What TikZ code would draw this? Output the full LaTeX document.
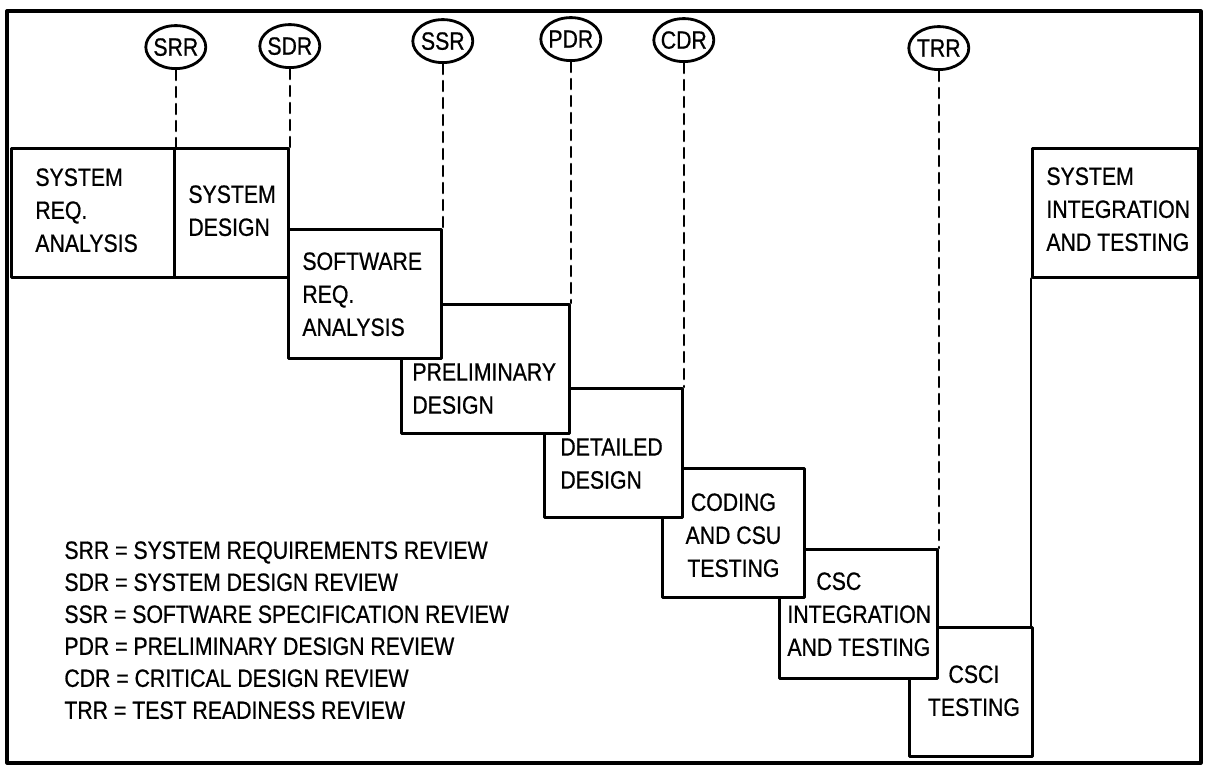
\documentclass[tikz,border=0pt]{standalone}
\usepackage{fontspec}
\setmainfont{Liberation Sans}[FakeStretch=0.85,UprightFeatures={FakeBold=0.7}]
\usepackage{tikz}
\usetikzlibrary{positioning,shapes.geometric}
\tikzset{
    every picture/.style={line cap=round,line join=round},
    phasebox/.style={draw,fill=white,line width=1.4pt,anchor=north west,
      minimum height=64.5pt,inner sep=0pt},
    phasetext/.style={anchor=north west,inner sep=0pt,align=left,
      font=\fontsize{12.5}{16.5}\selectfont},
    review/.style={draw,ellipse,line width=1.4pt,minimum width=30pt,
      minimum height=21.5pt,inner xsep=-1.5pt,inner ysep=0pt,
      font=\fontsize{12.5}{14}\selectfont},
    milestone/.style={line width=1.3pt,dash pattern=on 5pt off 3.5pt},
    keytext/.style={anchor=north west,inner sep=0pt,align=left,
      font=\fontsize{12.5}{16}\selectfont},
    outerframe/.style={line width=1.6pt}
}

\begin{document}
\begin{tikzpicture}[x=0.5pt,y=-0.5pt]
    \useasboundingbox (0,0) rectangle (1208,770);
    \draw[outerframe] (7,11) rectangle (1201,763);
    % phases, the last one first so that each earlier one lies on top
    \node[phasebox,minimum width=61.5pt] (csci) at (908,626) {};
    \node[phasebox,minimum width=79pt] (csc) at (778,548) {};
    \node[phasebox,minimum width=71pt] (cod) at (661,467) {};
    \node[phasebox,minimum width=69pt] (dd) at (543,387) {};
    \node[phasebox,minimum width=84pt] (pd) at (400,303) {};
    \node[phasebox,minimum width=76.5pt] (swra) at (287,228) {};
    \node[phasebox,minimum width=57pt] (sd) at (173,147) {};
    \node[phasebox,minimum width=81.5pt] (sra) at (10,147) {};
    \node[phasebox,minimum width=83pt] (sit) at (1031,147) {};
    \draw[line width=1.4pt] (sit.south west) -- (sit.south west |- csci.north);
    % phase names
    \node[phasetext] at ([shift={(25,21)}]sra.north west) {SYSTEM\\REQ.\\ANALYSIS};
    \node[phasetext] at ([shift={(15,38)}]sd.north west) {SYSTEM\\DESIGN};
    \node[phasetext] at ([shift={(15,24)}]swra.north west) {SOFTWARE\\REQ.\\ANALYSIS};
    \node[phasetext] at ([shift={(12,60)}]pd.north west) {PRELIMINARY\\DESIGN};
    \node[phasetext] at ([shift={(17,51)}]dd.north west) {DETAILED\\DESIGN};
    \node[phasetext,anchor=north,align=center] at ([shift={(0,26)}]cod.north) {CODING\\AND CSU\\TESTING};
    \node[phasetext] at ([shift={(9,24)}]csc.north west) {\hspace*{14.5pt}CSC\\INTEGRATION\\AND TESTING};
    \node[phasetext,anchor=north,align=center] at ([shift={(3,39)}]csci.north) {CSCI\\TESTING};
    \node[phasetext] at ([shift={(15,20)}]sit.north west) {SYSTEM\\INTEGRATION\\AND TESTING};
    % reviews
    \node[review,above=38.5pt of sra.north east] (srr) {SRR};
    \node[review,above=39pt of sd.north east] (sdr) {SDR};
    \node[review,above=82pt of swra.north east] (ssr) {SSR};
    \node[review,above=120.5pt of pd.north east] (pdr) {PDR};
    \node[review,above=162pt of dd.north east] (cdr) {CDR};
    \node[review,above=238.5pt of csc.north east] (trr) {TRR};
    \draw[milestone] (srr) -- (sra.north east);
    \draw[milestone] (sdr) -- (sd.north east);
    \draw[milestone] (ssr) -- (swra.north east);
    \draw[milestone] (pdr) -- (pd.north east);
    \draw[milestone] (cdr) -- (dd.north east);
    \draw[milestone] (trr) -- (csc.north east);
    % key
    \node[keytext] (key) at (64,541) {SRR = SYSTEM REQUIREMENTS REVIEW\\
      SDR = SYSTEM DESIGN REVIEW\\
      SSR = SOFTWARE SPECIFICATION REVIEW\\
      PDR = PRELIMINARY DESIGN REVIEW\\
      CDR = CRITICAL DESIGN REVIEW\\
      TRR = TEST READINESS REVIEW};
\end{tikzpicture}
\end{document}
